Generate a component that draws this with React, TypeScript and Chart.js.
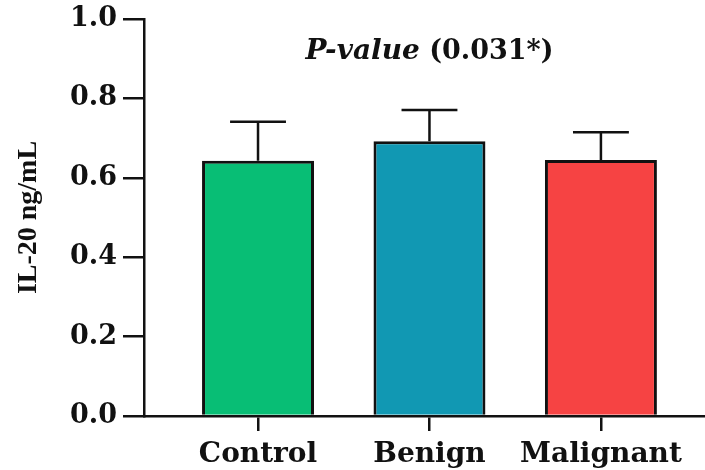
import React, { useEffect, useRef } from "react";
import { Chart, registerables } from "chart.js";

Chart.register(...registerables);

const categories = ["Control", "Benign", "Malignant"];
const means = [0.643, 0.692, 0.645];
const errors = [0.098, 0.079, 0.07];
const barColors = ["#08BE75", "#1198B3", "#F64343"];
const yTickValues = [0, 0.2, 0.4, 0.6, 0.8, 1.0];
const yTitle = "IL-20 ng/mL";
const annotationItalic = "P-value";
const annotationRest = " (0.031*)";

const errorBarPlugin = {
  id: "errorBars",
  afterDatasetsDraw(chart: any) {
    const ctx = chart.ctx;
    const xs = chart.scales.x;
    const ys = chart.scales.y;
    ctx.save();
    ctx.strokeStyle = "#111";
    ctx.lineWidth = 2.5;
    means.forEach((m, i) => {
      const x = xs.getPixelForValue(i);
      const y0 = ys.getPixelForValue(m);
      const y1 = ys.getPixelForValue(m + errors[i]);
      const capHalf = (xs.getPixelForValue(1) - xs.getPixelForValue(0)) * 0.163;
      ctx.beginPath();
      ctx.moveTo(x, y0);
      ctx.lineTo(x, y1);
      ctx.moveTo(x - capHalf, y1);
      ctx.lineTo(x + capHalf, y1);
      ctx.stroke();
    });
    ctx.restore();
  },
};

const annotationPlugin = {
  id: "pvalue",
  afterDraw(chart: any) {
    const ctx = chart.ctx;
    const xs = chart.scales.x;
    const cx = xs.getPixelForValue(1);
    const cy = 52;
    ctx.save();
    ctx.fillStyle = "#111";
    ctx.textBaseline = "middle";
    const f1 = "italic bold 28px 'DejaVu Serif'";
    const f2 = "bold 27px 'DejaVu Serif'";
    ctx.font = f1;
    const w1 = ctx.measureText(annotationItalic).width;
    ctx.font = f2;
    const w2 = ctx.measureText(annotationRest).width;
    const x = cx - (w1 + w2) / 2;
    ctx.textAlign = "left";
    ctx.font = f1;
    ctx.fillText(annotationItalic, x, cy);
    ctx.font = f2;
    ctx.fillText(annotationRest, x + w1, cy);
    ctx.restore();
  },
};

export default function App() {
  const ref = useRef<HTMLCanvasElement | null>(null);

  useEffect(() => {
    document.body.style.margin = "0";
    const canvas = ref.current;
    if (!canvas) return;
    const chart = new Chart(canvas, {
      type: "bar",
      data: {
        datasets: [
          {
            data: means.map((m, i) => ({ x: i, y: m })),
            backgroundColor: barColors,
            borderColor: "#111",
            borderWidth: 3,
            barPercentage: 0.653,
            categoryPercentage: 1,
          },
        ],
      },
      options: {
        animation: false,
        responsive: false,
        maintainAspectRatio: false,
        layout: { padding: { top: 19, right: 0, left: 0, bottom: 0 } },
        plugins: {
          legend: { display: false },
          tooltip: { enabled: false },
        },
        scales: {
          x: {
            type: "linear",
            offset: false,
            min: -0.665,
            max: 2.607,
            afterBuildTicks: (scale: any) => {
              scale.ticks = categories.map((_, i) => ({ value: i }));
            },
            afterFit: (scale: any) => {
              scale.height = 54;
              scale.paddingLeft = 0;
              scale.paddingRight = 0;
            },
            ticks: {
              callback: (v: any) => categories[v] ?? "",
              color: "#111",
              font: { family: "'DejaVu Serif'", size: 28, weight: "bold" },
              padding: 7,
              maxRotation: 0,
              autoSkip: false,
            },
            grid: {
              offset: false,
              drawOnChartArea: false,
              drawTicks: true,
              tickLength: 15,
              color: "#111",
              lineWidth: 2.5,
            },
            border: { display: true, color: "#111", width: 2.5 },
          },
          y: {
            min: 0,
            max: 1,
            afterBuildTicks: (scale: any) => {
              scale.ticks = yTickValues.map((v) => ({ value: v }));
            },
            afterFit: (scale: any) => {
              scale.width = 144;
              scale.paddingTop = 0;
              scale.paddingBottom = 0;
            },
            ticks: {
              callback: (v: any) => Number(v).toFixed(1),
              color: "#111",
              font: { family: "'DejaVu Serif'", size: 27, weight: "bold" },
              padding: 6,
            },
            grid: {
              drawOnChartArea: false,
              drawTicks: true,
              tickLength: 21,
              color: "#111",
              lineWidth: 2.5,
            },
            border: { display: true, color: "#111", width: 2.5 },
            title: {
              display: true,
              text: yTitle,
              color: "#111",
              font: { family: "'Liberation Serif'", size: 28, weight: "bold" },
              padding: { top: 12, bottom: 0 },
            },
          },
        },
      },
      plugins: [errorBarPlugin, annotationPlugin],
    });
    return () => chart.destroy();
  }, []);

  return (
    <div style={{ width: 705, height: 470, background: "#fff" }}>
      <canvas ref={ref} width={705} height={470} style={{ display: "block" }} />
    </div>
  );
}
